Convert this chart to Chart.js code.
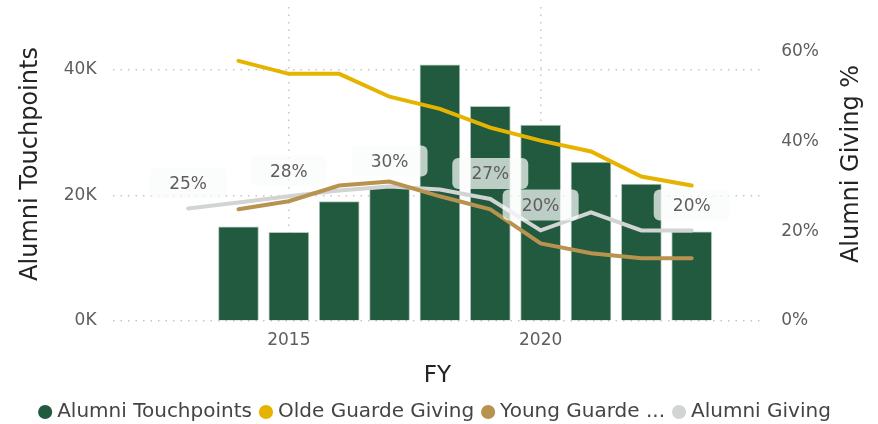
<!DOCTYPE html>
<html lang="en">
<head>
  <meta charset="UTF-8" />
  <title>Alumni Touchpoints and Giving</title>
  <script src="https://cdn.jsdelivr.net/npm/chart.js"></script>
  <style>
    html, body {
      margin: 0;
      padding: 0;
      background: #fff;
    }
  </style>
</head>
<body>

<canvas id="chart" width="878" height="424"></canvas>

<script>
  // fiscal years and values
  const barYears = [2014, 2015, 2016, 2017, 2018, 2019, 2020, 2021, 2022, 2023];
  const touchpoints = [15000, 14100, 19000, 21400, 40800, 34200, 31200, 25300, 21800, 14200];

  const guardeYears = [2014, 2015, 2016, 2017, 2018, 2019, 2020, 2021, 2022, 2023];
  const oldeGuarde = [58.0, 55.1, 55.1, 50.0, 47.3, 43.1, 40.2, 37.8, 32.2, 30.2];
  const youngGuarde = [24.9, 26.7, 30.2, 31.1, 27.8, 24.9, 17.3, 15.1, 14.0, 14.0];

  const givingYears = [2013, 2014, 2015, 2016, 2017, 2018, 2019, 2020, 2021, 2022, 2023];
  const alumniGiving = [25.1, 26.4, 27.8, 29.1, 30.0, 29.3, 27.2, 20.2, 24.2, 20.2, 20.2];
  const labelledYears = [2013, 2015, 2017, 2019, 2020, 2023];

  const xTicks = [2015, 2020];
  const leftTicks = [0, 20000, 40000];
  const rightTicks = [0, 20, 40, 60];
  const legendNames = ['Alumni Touchpoints', 'Olde Guarde Giving', 'Young Guarde ...', 'Alumni Giving'];

  const FONT = '"DejaVu Sans", sans-serif';
  const tickColor = '#605E5C';
  const titleColor = '#252423';
  const gridColor = '#C8C6C4';

  Chart.defaults.font.family = FONT;

  const toPoints = (xs, ys) => xs.map((x, i) => ({ x: x, y: ys[i] }));

  // no extra half-label padding above the plot
  const noPad = scale => {
    scale.paddingTop = 0;
    scale.paddingBottom = 0;
  };

  // boxed percentage labels on the Alumni Giving line
  const givingLabels = {
    id: 'givingLabels',
    afterDatasetsDraw(chart) {
      const meta = chart.getDatasetMeta(3);
      const ctx = chart.ctx;
      ctx.save();
      ctx.font = '17px ' + FONT;
      ctx.textAlign = 'center';
      ctx.textBaseline = 'middle';
      meta.data.forEach((pt, i) => {
        if (!labelledYears.includes(givingYears[i])) return;
        const cx = pt.x;
        const cy = pt.y - 26;
        ctx.fillStyle = 'rgba(250,251,251,0.72)';
        ctx.beginPath();
        ctx.roundRect(cx - 38, cy - 15, 76, 31, 6);
        ctx.fill();
        ctx.fillStyle = tickColor;
        ctx.fillText(Math.round(alumniGiving[i]) + '%', cx, cy + 2);
      });
      ctx.restore();
    }
  };

  // right axis title reads bottom-to-top like the left one
  const rightTitle = {
    id: 'rightTitle',
    afterDraw(chart) {
      const ctx = chart.ctx;
      const area = chart.chartArea;
      ctx.save();
      ctx.translate(chart.width - 26, (area.top + area.bottom) / 2);
      ctx.rotate(-Math.PI / 2);
      ctx.font = '24px ' + FONT;
      ctx.fillStyle = titleColor;
      ctx.textAlign = 'center';
      ctx.textBaseline = 'middle';
      ctx.fillText('Alumni Giving %', 0, 0);
      ctx.restore();
    }
  };

  new Chart(document.getElementById('chart'), {
    data: {
      datasets: [
        {
          type: 'bar',
          label: 'Alumni Touchpoints',
          data: toPoints(barYears, touchpoints),
          backgroundColor: '#215A3F',
          borderColor: 'rgba(160,185,170,0.8)',
          borderWidth: 1,
          barThickness: 40,
          yAxisID: 'y',
          order: 4
        },
        {
          type: 'line',
          label: 'Olde Guarde Giving',
          data: toPoints(guardeYears, oldeGuarde),
          borderColor: '#E6B400',
          backgroundColor: '#E6B400',
          borderWidth: 4,
          pointRadius: 0,
          borderCapStyle: 'round',
          yAxisID: 'y1',
          order: 1
        },
        {
          type: 'line',
          label: 'Young Guarde Giving',
          data: toPoints(guardeYears, youngGuarde),
          borderColor: '#B8924F',
          backgroundColor: '#B8924F',
          borderWidth: 4,
          pointRadius: 0,
          borderCapStyle: 'round',
          yAxisID: 'y1',
          order: 2
        },
        {
          type: 'line',
          label: 'Alumni Giving',
          data: toPoints(givingYears, alumniGiving),
          borderColor: '#D2D4D4',
          backgroundColor: '#D2D4D4',
          borderWidth: 4,
          pointRadius: 0,
          borderCapStyle: 'round',
          yAxisID: 'y1',
          order: 3
        }
      ]
    },
    options: {
      responsive: false,
      animation: false,
      layout: { padding: { left: 16, right: 20, top: 7, bottom: -8 } },
      plugins: {
        tooltip: { enabled: false },
        legend: {
          position: 'bottom',
          labels: {
            usePointStyle: true,
            boxWidth: 4,
            boxHeight: 10,
            padding: 12,
            color: '#444',
            font: { size: 20 },
            sort: (a, b) => a.datasetIndex - b.datasetIndex,
            generateLabels(chart) {
              const items = Chart.defaults.plugins.legend.labels.generateLabels(chart);
              items.forEach(it => {
                it.text = legendNames[it.datasetIndex];
                it.pointStyle = 'circle';
                it.lineWidth = 0;
                it.strokeStyle = it.fillStyle;
              });
              return items;
            }
          }
        }
      },
      scales: {
        x: {
          type: 'linear',
          min: 2011.5,
          max: 2024.4,
          offset: false,
          afterBuildTicks: axis => { axis.ticks = xTicks.map(v => ({ value: v })); },
          ticks: { callback: v => String(v), color: tickColor, font: { size: 17 }, padding: 9 },
          grid: { color: gridColor, lineWidth: 1.5, drawTicks: false, offset: false },
          border: { display: false, dash: [1.5, 6] },
          title: { display: true, text: 'FY', color: titleColor, font: { size: 23 }, padding: { top: 3, bottom: 0 } }
        },
        y: {
          position: 'left',
          min: 0,
          max: 50000,
          afterBuildTicks: axis => { axis.ticks = leftTicks.map(v => ({ value: v })); },
          afterFit: noPad,
          ticks: { callback: v => (v / 1000) + 'K', color: tickColor, font: { size: 17 }, padding: 16 },
          grid: { color: gridColor, lineWidth: 1.5, drawTicks: false },
          border: { display: false, dash: [1.5, 6] },
          title: { display: true, text: 'Alumni Touchpoints', color: titleColor, font: { size: 24 }, padding: { top: 0, bottom: 3 } }
        },
        y1: {
          position: 'right',
          min: 0,
          max: 70,
          afterBuildTicks: axis => { axis.ticks = rightTicks.map(v => ({ value: v })); },
          afterFit: scale => {
            noPad(scale);
            scale.width += 20; // room for the right title
          },
          ticks: { callback: v => v + '%', color: tickColor, font: { size: 17 }, padding: 19 },
          grid: { drawOnChartArea: false, drawTicks: false },
          border: { display: false }
        }
      }
    },
    plugins: [givingLabels, rightTitle]
  });
</script>

</body>
</html>
